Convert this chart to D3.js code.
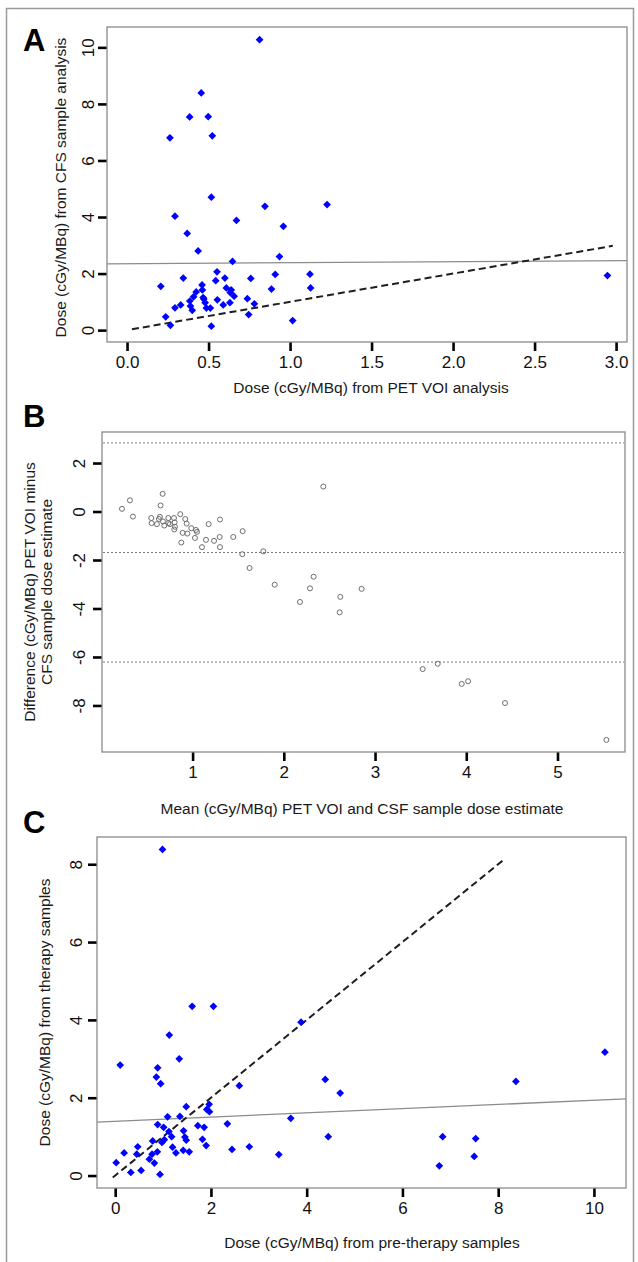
<!DOCTYPE html>
<html>
<head>
<meta charset="utf-8">
<script src="https://cdn.jsdelivr.net/npm/d3@7"></script>
<style>
  body { margin: 0; background: #fff; }
  text { font-family: "Liberation Sans", Arial, sans-serif; fill: #1a1a1a; }
</style>
</head>
<body>
<div id="chart-area"></div>
<script>
// ---- data ----
// Panel A: PET VOI dose vs CSF sample dose
var petDoseA = [0.813, 0.455, 0.384, 0.498, 0.263, 0.523, 0.517, 0.294, 0.846, 1.227, 0.671, 0.959,
  0.369, 0.436, 0.647, 0.935, 0.207, 0.345, 0.552, 0.544, 0.600, 0.759, 0.909, 1.122, 0.460, 0.462,
  0.609, 0.639, 0.633, 0.657, 0.424, 0.408, 0.886, 1.126, 0.385, 0.389, 0.400, 0.329, 0.294, 0.467,
  0.471, 0.479, 0.487, 0.511, 0.554, 0.590, 0.631, 0.738, 0.781, 0.746, 0.237, 0.266, 0.517, 1.016, 2.947];
var csfDoseA = [10.27, 8.39, 7.54, 7.55, 6.80, 6.87, 4.70, 4.03, 4.38, 4.44, 3.88, 3.67,
  3.42, 2.80, 2.43, 2.60, 1.55, 1.84, 2.06, 1.75, 1.84, 1.83, 1.97, 1.98, 1.60, 1.42,
  1.49, 1.42, 1.33, 1.20, 1.35, 1.18, 1.45, 1.49, 1.03, 0.85, 0.70, 0.89, 0.79, 1.15,
  1.10, 0.97, 0.78, 0.78, 1.07, 0.89, 0.97, 1.11, 0.93, 0.55, 0.47, 0.17, 0.14, 0.34, 1.93];
var fitA = [2.35, 0.036];            // intercept, slope
var identityA = [0.03, 2.98];        // x range of the y = x line

// Panel B: Bland-Altman
var meanB = [0.226, 0.313, 0.346, 0.672, 0.649, 0.547, 0.551, 0.609, 0.631, 0.642, 0.690, 0.675,
  0.734, 0.734, 0.752, 0.796, 0.803, 0.807, 0.799, 0.865, 0.920, 0.935, 0.986, 1.037, 1.048, 0.891,
  0.942, 0.876, 1.026, 1.103, 1.147, 1.176, 1.235, 1.297, 1.300, 1.300, 1.446, 1.549, 1.545, 1.775,
  1.625, 1.900, 2.433, 2.327, 2.287, 2.177, 2.619, 2.612, 2.853, 3.522, 3.687, 3.950, 4.020, 4.425, 5.536];
var diffB = [0.11, 0.46, -0.21, 0.73, 0.25, -0.27, -0.48, -0.52, -0.31, -0.22, -0.58, -0.41,
  -0.27, -0.48, -0.52, -0.27, -0.45, -0.63, -0.74, -0.11, -0.31, -0.50, -0.69, -0.76, -0.84, -0.88,
  -0.91, -1.28, -1.09, -1.47, -1.17, -0.52, -1.21, -1.05, -0.33, -1.47, -1.05, -0.81, -1.76, -1.64,
  -2.33, -3.02, 1.03, -2.69, -3.17, -3.73, -3.52, -4.16, -3.19, -6.50, -6.28, -7.11, -7.00, -7.90, -9.42];
var limitsB = [2.83, -1.69, -6.21];  // upper limit, mean difference, lower limit

// Panel C: pre-therapy vs therapy dose
var preDoseC = [0.988, 1.608, 2.052, 1.130, 1.338, 0.104, 0.887, 0.860, 0.950, 3.882, 2.593, 4.388,
  4.700, 1.484, 1.913, 1.969, 1.962, 1.095, 1.352, 0.887, 1.012, 1.123, 1.179, 1.428, 1.456, 1.484,
  1.726, 1.858, 2.343, 3.667, 4.451, 0.783, 0.977, 1.026, 1.823, 1.900, 1.199, 1.421, 1.269, 1.546,
  2.440, 2.801, 3.418, 0.471, 0.451, 0.187, 0.021, 0.770, 0.880, 0.714, 0.818, 0.326, 0.541, 0.936,
  10.23, 8.37, 6.84, 7.53, 7.50, 6.77];
var therapyDoseC = [8.38, 4.35, 4.35, 3.61, 3.00, 2.84, 2.77, 2.53, 2.36, 3.94, 2.31, 2.47,
  2.12, 1.77, 1.70, 1.64, 1.83, 1.51, 1.52, 1.31, 1.24, 1.13, 1.00, 1.15, 0.99, 0.91,
  1.28, 1.24, 1.33, 1.47, 1.00, 0.89, 0.85, 0.92, 0.93, 0.77, 0.73, 0.65, 0.58, 0.61,
  0.67, 0.74, 0.54, 0.74, 0.55, 0.58, 0.33, 0.55, 0.61, 0.42, 0.32, 0.08, 0.13, 0.03,
  3.17, 2.42, 1.00, 0.95, 0.49, 0.25];
var fitC = [1.395, 0.054];
var identityC = [-0.05, 8.1];

var ticksA = { x: [0, 0.5, 1, 1.5, 2, 2.5, 3], y: [0, 2, 4, 6, 8, 10] };
var ticksB = { x: [1, 2, 3, 4, 5], y: [-8, -6, -4, -2, 0, 2] };
var ticksC = { x: [0, 2, 4, 6, 8, 10], y: [0, 2, 4, 6, 8] };

var W = 638, H = 1262;
var svg = d3.select("#chart-area").append("svg")
    .attr("width", W)
    .attr("height", H);

// outer figure frame
svg.append("rect")
    .attr("x", 6.5).attr("y", 8.5)
    .attr("width", 627).attr("height", H)
    .attr("fill", "none").attr("stroke", "#9a9a9a").attr("stroke-width", 1.5);

// plain hyphen minus like R does
var plainInt = function(d) { return String(d); };

function panel(cfg) {
    var x = d3.scaleLinear().domain(cfg.xDomain).range([cfg.left, cfg.right]);
    var y = d3.scaleLinear().domain(cfg.yDomain).range([cfg.bottom, cfg.top]);
    var g = svg.append("g");

    // letter
    g.append("text")
        .attr("x", 23).attr("y", cfg.letterY)
        .attr("font-size", 31).attr("font-weight", "bold")
        .style("fill", "#000")
        .text(cfg.letter);

    var plot = g.append("g");

    // axes
    var xAxis = g.append("g")
        .attr("transform", "translate(0," + cfg.bottom + ")")
        .call(d3.axisBottom(x).tickValues(cfg.ticks.x).tickSize(9).tickPadding(5)
            .tickFormat(cfg.xFormat));
    var yAxis = g.append("g")
        .attr("transform", "translate(" + cfg.left + ",0)")
        .call(d3.axisLeft(y).tickValues(cfg.ticks.y).tickSize(9).tickFormat(plainInt));

    [xAxis, yAxis].forEach(function(a) {
        a.attr("font-size", null).attr("font-family", null);
        a.select(".domain").remove();
        a.selectAll(".tick line").attr("stroke", "#000").attr("stroke-width", 2.6);
        a.selectAll(".tick text").style("font-size", "17px").style("fill", "#111");
    });
    yAxis.selectAll(".tick text")
        .attr("transform", "rotate(-90)")
        .attr("text-anchor", "middle")
        .attr("x", 0)
        .attr("y", -cfg.yLabelOffset)
        .attr("dy", "0.35em");

    // box
    g.append("rect")
        .attr("x", cfg.left).attr("y", cfg.top)
        .attr("width", cfg.right - cfg.left).attr("height", cfg.bottom - cfg.top)
        .attr("fill", "none").attr("stroke", "#8a8a8a").attr("stroke-width", 1.3);

    // titles
    g.append("text")
        .attr("x", cfg.xTitleX).attr("y", cfg.xTitleY)
        .attr("text-anchor", "middle").attr("dy", "0.35em")
        .style("font-size", "15.5px")
        .text(cfg.xTitle);
    var cy = (cfg.top + cfg.bottom) / 2 + (cfg.yTitleShift || 0);
    cfg.yTitle.forEach(function(line, i) {
        g.append("text")
            .attr("transform", "translate(" + (cfg.yTitleX + i * 17) + "," + cy + ") rotate(-90)")
            .attr("text-anchor", "middle").attr("dy", "0.35em")
            .style("font-size", "15.5px")
            .text(line);
    });

    return { x: x, y: y, plot: plot, cfg: cfg };
}

function clipTo(p) {
    var id = "clip" + p.cfg.letter;
    svg.append("clipPath").attr("id", id).append("rect")
        .attr("x", p.cfg.left).attr("y", p.cfg.top)
        .attr("width", p.cfg.right - p.cfg.left).attr("height", p.cfg.bottom - p.cfg.top);
    return "url(#" + id + ")";
}

function ablineSolid(p, coef) {
    var d = p.x.domain();
    p.plot.append("line")
        .attr("clip-path", clipTo(p))
        .attr("x1", p.x(d[0])).attr("x2", p.x(d[1]))
        .attr("y1", p.y(coef[0] + coef[1] * d[0])).attr("y2", p.y(coef[0] + coef[1] * d[1]))
        .attr("stroke", "#8c8c8c").attr("stroke-width", 1.3);
}

function identityLine(p, range) {
    p.plot.append("line")
        .attr("x1", p.x(range[0])).attr("x2", p.x(range[1]))
        .attr("y1", p.y(range[0])).attr("y2", p.y(range[1]))
        .attr("stroke", "#1e1e1e").attr("stroke-width", 2)
        .attr("stroke-dasharray", "7,4");
}

var diamond = d3.symbol().type(d3.symbolSquare).size(30);

function bluePoints(p, xs, ys) {
    p.plot.selectAll(".pt").data(xs).enter().append("path")
        .attr("class", "pt")
        .attr("d", diamond)
        .attr("transform", function(d, i) {
            return "translate(" + p.x(d) + "," + p.y(ys[i]) + ") rotate(45)";
        })
        .attr("fill", "#0000ff");
}

// ---- Panel A ----
var pA = panel({
    letter: "A", letterY: 51,
    left: 107, right: 627, top: 27, bottom: 342,
    xDomain: [-0.123, 3.067], yDomain: [-0.42, 10.72],
    ticks: ticksA, xFormat: d3.format(".1f"), yLabelOffset: 19,
    xTitle: "Dose (cGy/MBq) from PET VOI analysis", xTitleX: 371, xTitleY: 388,
    yTitle: ["Dose (cGy/MBq) from CFS sample analysis"], yTitleX: 61, yTitleShift: 3
});
ablineSolid(pA, fitA);
identityLine(pA, identityA);
bluePoints(pA, petDoseA, csfDoseA);

// ---- Panel B ----
var pB = panel({
    letter: "B", letterY: 427,
    left: 102, right: 625, top: 432, bottom: 752,
    xDomain: [0.007, 5.74], yDomain: [-9.92, 3.28],
    ticks: ticksB, xFormat: plainInt, yLabelOffset: 23,
    xTitle: "Mean (cGy/MBq) PET VOI and CSF sample dose estimate", xTitleX: 362, xTitleY: 809,
    yTitle: ["Difference (cGy/MBq) PET VOI minus", "CFS sample dose estimate"], yTitleX: 30
});
limitsB.forEach(function(v) {
    pB.plot.append("line")
        .attr("x1", pB.cfg.left + 1).attr("x2", pB.cfg.right - 1)
        .attr("y1", pB.y(v)).attr("y2", pB.y(v))
        .attr("stroke", "#7a7a7a").attr("stroke-width", 1)
        .attr("stroke-dasharray", "2,2");
});
pB.plot.selectAll(".pt").data(meanB).enter().append("circle")
    .attr("cx", function(d) { return pB.x(d); })
    .attr("cy", function(d, i) { return pB.y(diffB[i]); })
    .attr("r", 2.5)
    .attr("fill", "none").attr("stroke", "#6e6e6e").attr("stroke-width", 1);

// ---- Panel C ----
var pC = panel({
    letter: "C", letterY: 833,
    left: 97, right: 626, top: 837, bottom: 1188,
    xDomain: [-0.38, 10.67], yDomain: [-0.32, 8.70],
    ticks: ticksC, xFormat: plainInt, yLabelOffset: 21,
    xTitle: "Dose (cGy/MBq) from pre-therapy samples", xTitleX: 372, xTitleY: 1243,
    yTitle: ["Dose (cGy/MBq) from therapy samples"], yTitleX: 45
});
ablineSolid(pC, fitC);
identityLine(pC, identityC);
bluePoints(pC, preDoseC, therapyDoseC);
</script>
</body>
</html>
